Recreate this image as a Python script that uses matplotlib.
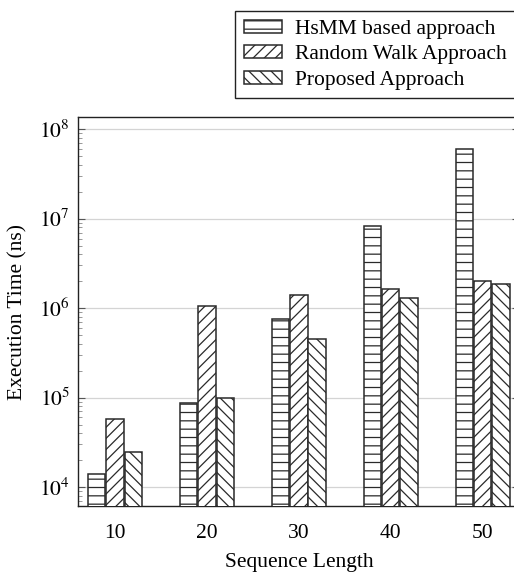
import matplotlib
matplotlib.use("Agg")
from matplotlib import pyplot as plt
from matplotlib.patches import Patch
import numpy as np

# sequence lengths on the x axis
seq_len = [10, 20, 30, 40, 50]

# execution time in ns
hsmm = [1.41e4, 8.6e4, 7.6e5, 8.3e6, 6.0e7]
random_walk = [5.7e4, 1.06e6, 1.4e6, 1.63e6, 2.0e6]
proposed = [2.49e4, 9.9e4, 4.57e5, 1.3e6, 1.85e6]

series_names = ["HsMM based approach", "Random Walk Approach", "Proposed Approach"]
hatches = ["--", "///", "\\\\\\"]

plt.rcParams["font.family"] = "Liberation Serif"
plt.rcParams["mathtext.fontset"] = "stix"
plt.rcParams["hatch.linewidth"] = 0.9

fs = 15.5

fig = plt.figure(figsize=(5.14, 5.72), dpi=100)
ax = fig.add_axes([78.3 / 514, 66 / 572, (519.4 - 78.3) / 514, (506 - 117) / 572])

x = np.array(seq_len, dtype=float)
width = 1.9
offsets = [-2.0, 0.0, 2.0]
for vals, off, h in zip([hsmm, random_walk, proposed], offsets, hatches):
    ax.bar(x + off, vals, width=width, bottom=1, color="white",
           edgecolor="#2a2a2a", linewidth=1.1, hatch=h, zorder=3)

ax.set_yscale("log")
ax.set_ylim(10 ** 3.789, 10 ** 8.136)
ax.set_xlim(6, 54)

ax.set_xticks(seq_len)
ax.set_xticklabels([str(v) for v in seq_len], fontsize=fs)
ax.set_yticks([1e4, 1e5, 1e6, 1e7, 1e8])
ax.set_yticklabels([r"$10^{%d}$" % e for e in range(4, 9)], fontsize=fs)

ax.tick_params(axis="x", length=0, pad=13)
ax.tick_params(axis="y", which="major", direction="in", length=5, width=0.8,
               color="#555555", right=True, pad=6)
ax.tick_params(axis="y", which="minor", direction="in", length=3, width=0.6,
               color="#888888", right=True)

ax.grid(axis="y", which="major", color="#d4d4d4", linewidth=0.9, zorder=0)
ax.set_axisbelow(True)

for s in ax.spines.values():
    s.set_linewidth(1.0)
    s.set_color("#222222")

ax.set_xlabel("Sequence Length", fontsize=fs, labelpad=7)
ax.set_ylabel("Execution Time (ns)", fontsize=fs, labelpad=8)

handles = [Patch(facecolor="white", edgecolor="#2a2a2a", hatch=h, linewidth=1.1)
           for h in hatches]
leg = fig.legend(handles, series_names, loc="upper left",
                 bbox_to_anchor=(235 / 514, 1 - 11 / 572), borderaxespad=0,
                 fontsize=fs, frameon=True, fancybox=False, framealpha=1,
                 edgecolor="#222222", handlelength=1.8, handleheight=0.55,
                 handletextpad=0.6, labelspacing=0.3, borderpad=0.4)
leg.get_frame().set_linewidth(1.0)

fig.savefig("out.png", dpi=100)
